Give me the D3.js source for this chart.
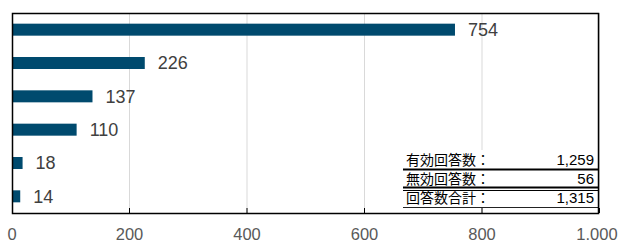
<!DOCTYPE html>
<html>
<head>
<meta charset="utf-8">
<script src="https://cdn.jsdelivr.net/npm/d3@7"></script>
<style>
  body { margin: 0; background: #fff; }
  svg { display: block; }
</style>
</head>
<body>
<div id="chart"></div>
<script>
// data
const categories = ['c1', 'c2', 'c3', 'c4', 'c5', 'c6'];
const values = [754, 226, 137, 110, 18, 14];
const xTicks = [0, 200, 400, 600, 800, 1000];
const tableLabels = ['有効回答数：', '無効回答数：', '回答数合計：'];
const tableValues = ['1,259', '56', '1,315'];

const width = 619, height = 244;
const plot = { left: 12, top: 13, right: 598, bottom: 213 };

const svg = d3.select('#chart').append('svg')
    .attr('width', width)
    .attr('height', height);

const x = d3.scaleLinear().domain([0, 1000]).range([plot.left, plot.left + 1000 * 0.5875]);
const y = d3.scaleBand().domain(categories).range([plot.top, plot.bottom]).paddingInner(0.64).paddingOuter(0.32);

// gridlines
svg.append('g')
    .selectAll('line')
    .data(xTicks.slice(1))
    .join('line')
    .attr('x1', d => x(d)).attr('x2', d => x(d))
    .attr('y1', plot.top).attr('y2', plot.bottom)
    .attr('stroke', '#d9d9d9').attr('stroke-width', 1);

// bars
svg.append('g')
    .selectAll('rect')
    .data(values)
    .join('rect')
    .attr('x', x(0))
    .attr('y', (d, i) => y(categories[i]))
    .attr('width', d => x(d) - x(0))
    .attr('height', y.bandwidth())
    .attr('fill', '#004a6e');

// value labels
svg.append('g')
    .selectAll('text')
    .data(values)
    .join('text')
    .attr('x', d => x(d) + 13)
    .attr('y', (d, i) => y(categories[i]) + y.bandwidth() / 2)
    .attr('dy', '0.36em')
    .attr('font-family', '"Liberation Sans Narrow", "Liberation Sans", sans-serif')
    .attr('font-size', 18)
    .attr('fill', '#404040')
    .text(d => d);

// table
const tbl = svg.append('g');
const tLeft = 403, tRight = plot.right, tTop = 150;
const rowH = [19, 19, 19];
tbl.append('rect')
    .attr('x', tLeft).attr('y', tTop)
    .attr('width', tRight - tLeft).attr('height', 57)
    .attr('fill', '#fff');
let ty = tTop;
tableLabels.forEach((lab, i) => {
    tbl.append('text')
        .attr('x', tLeft + 3)
        .attr('y', ty + rowH[i] / 2)
        .attr('dy', '0.36em')
        .attr('font-family', '"Noto Sans CJK JP", sans-serif')
        .attr('font-size', 14)
        .attr('fill', '#000')
        .text(lab);
    tbl.append('text')
        .attr('x', tRight - 4)
        .attr('y', ty + rowH[i] / 2)
        .attr('dy', '0.36em')
        .attr('text-anchor', 'end')
        .attr('font-family', '"Liberation Sans Narrow", "Liberation Sans", sans-serif')
        .attr('font-size', 15)
        .attr('fill', '#000')
        .text(tableValues[i]);
    ty += rowH[i];
});
// row separators
tbl.append('line').attr('x1', tLeft).attr('x2', tRight).attr('y1', 169.5).attr('y2', 169.5)
    .attr('stroke', '#000').attr('stroke-width', 2);
tbl.append('line').attr('x1', tLeft).attr('x2', tRight).attr('y1', 187.5).attr('y2', 187.5)
    .attr('stroke', '#000').attr('stroke-width', 2);
tbl.append('line').attr('x1', tLeft).attr('x2', tRight).attr('y1', 190.5).attr('y2', 190.5)
    .attr('stroke', '#000').attr('stroke-width', 1);
tbl.append('line').attr('x1', tLeft).attr('x2', tRight).attr('y1', 207.5).attr('y2', 207.5)
    .attr('stroke', '#222').attr('stroke-width', 1);

// tick marks at bottom
svg.append('g')
    .selectAll('line')
    .data(xTicks.slice(1))
    .join('line')
    .attr('x1', d => x(d)).attr('x2', d => x(d))
    .attr('y1', plot.bottom - 5).attr('y2', plot.bottom)
    .attr('stroke', '#000').attr('stroke-width', 1);

// frame
svg.append('rect')
    .attr('x', plot.left + 0.5).attr('y', plot.top + 0.5)
    .attr('width', plot.right - plot.left).attr('height', plot.bottom - plot.top)
    .attr('fill', 'none').attr('stroke', '#000').attr('stroke-width', 1.5);

// x axis labels
const fmt = d3.format(',');
svg.append('g')
    .selectAll('text')
    .data(xTicks)
    .join('text')
    .attr('x', d => Math.min(x(d), width - 22))
    .attr('y', 240)
    .attr('text-anchor', 'middle')
    .attr('font-family', '"Liberation Sans", Arial, sans-serif')
    .attr('font-size', 16.5)
    .attr('fill', '#595959')
    .text(d => fmt(d).replace(',', '.'));
</script>
</body>
</html>
